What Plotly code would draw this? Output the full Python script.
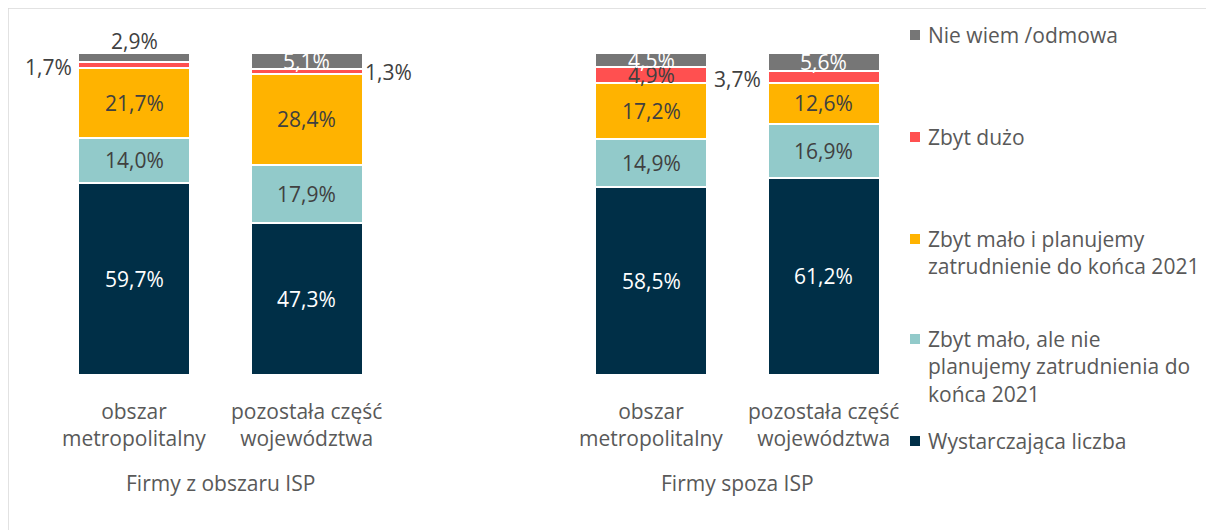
import plotly.graph_objects as go

# ---- data ----
categories = ["obszar<br>metropolitalny", "pozostała część<br>województwa",
              "obszar<br>metropolitalny", "pozostała część<br>województwa"]
groups = ["Firmy z obszaru ISP", "Firmy spoza ISP"]
x_pos = [0, 1, 3, 4]
group_centers = [0.5, 3.5]

series_names = ["Wystarczająca liczba",
                "Zbyt mało, ale nie<br>planujemy zatrudnienia do<br>końca 2021",
                "Zbyt mało i planujemy<br>zatrudnienie do końca 2021",
                "Zbyt dużo",
                "Nie wiem /odmowa"]
wystarczajaca = [59.7, 47.3, 58.5, 61.2]
za_malo_nie_plan = [14.0, 17.9, 14.9, 16.9]
za_malo_plan = [21.7, 28.4, 17.2, 12.6]
zbyt_duzo = [1.7, 1.3, 4.9, 3.7]
nie_wiem = [2.9, 5.1, 4.5, 5.6]
series_values = [wystarczajaca, za_malo_nie_plan, za_malo_plan, zbyt_duzo, nie_wiem]
colors = ["#002F47", "#92CACA", "#FFB300", "#FF5050", "#767676"]
label_colors = ["#FFFFFF", "#404040", "#404040", "#404040", "#FFFFFF"]

FONT = "Open Sans"
FS = 21
Y_MAX = 100

# page body has an 8px margin: work in reference pixels, shift by OFF
OFF = 8
W, H = 1214, 530
L, R, T, B = 48 - OFF, 910 - OFF, 53 - OFF, 375 - OFF


def px2paper_x(px):
    return (px - OFF - L) / (R - L)


def px2paper_y(py):
    return (B - (py - OFF)) / (B - T)


fig = go.Figure()
for name, vals, col in zip(series_names, series_values, colors):
    fig.add_trace(go.Bar(
        x=x_pos, y=vals, name=name, marker=dict(color=col, line=dict(color="white", width=2)),
        width=0.65, showlegend=False, hoverinfo="skip"))


def fmt(v):
    return f"{v:.1f}".replace(".", ",") + "%"


annotations = []
# data labels
for i, xp in enumerate(x_pos):
    base = 0.0
    for s, vals in enumerate(series_values):
        v = vals[i]
        mid = base + v / 2
        top = base + v
        kw = dict(x=xp, y=mid, text=fmt(v), showarrow=False,
                  font=dict(family=FONT, size=FS, color=label_colors[s]))
        if s == 3 and v < 4:  # small red segments: label outside
            if i == 1:
                kw.update(x=xp + 0.33, xanchor="left", font=dict(family=FONT, size=FS, color="#404040"))
            else:
                kw.update(x=xp - 0.35, xanchor="right", yshift=-2,
                          font=dict(family=FONT, size=FS, color="#404040"))
        if s == 4 and v < 4:  # tiny grey segment: label above (paper ref, avoids range clipping)
            kw.update(yref="paper", y=min(top, Y_MAX) / Y_MAX, yanchor="bottom", yshift=-4,
                      font=dict(family=FONT, size=FS, color="#404040"))
        annotations.append(kw)
        base = top

# category labels
for xp, cat in zip(x_pos, categories):
    annotations.append(dict(x=xp, y=px2paper_y(395), yref="paper", yanchor="top", text=cat,
                            showarrow=False, font=dict(family=FONT, size=FS, color="#595959")))
for xc, g in zip(group_centers, groups):
    annotations.append(dict(x=xc, y=px2paper_y(467), yref="paper", yanchor="top", text=g,
                            showarrow=False, font=dict(family=FONT, size=FS, color="#595959")))

# manual legend
legend_rows = [(4, 35), (3, 137), (2, 239), (1, 339), (0, 441)]
shapes = []
for s, cy in legend_rows:
    shapes.append(dict(type="rect", xref="paper", yref="paper",
                       x0=px2paper_x(910), x1=px2paper_x(920),
                       y0=px2paper_y(cy + 5), y1=px2paper_y(cy - 5),
                       fillcolor=colors[s], line=dict(width=0)))
    annotations.append(dict(xref="paper", yref="paper", x=px2paper_x(926), y=px2paper_y(cy - 16),
                            xanchor="left", yanchor="top", align="left", text=series_names[s],
                            showarrow=False, font=dict(family=FONT, size=FS, color="#595959")))

# outer border
shapes.append(dict(type="rect", xref="paper", yref="paper", layer="below",
                   x0=px2paper_x(8), x1=px2paper_x(1230), y0=px2paper_y(560), y1=px2paper_y(8),
                   line=dict(color="#D9D9D9", width=1.5), fillcolor="rgba(0,0,0,0)"))

fig.update_layout(
    barmode="stack", width=W, height=H,
    margin=dict(l=L, r=W - R, t=T, b=H - B),
    paper_bgcolor="white", plot_bgcolor="white",
    xaxis=dict(range=[-0.5, 4.5], visible=False, fixedrange=True),
    yaxis=dict(range=[0, Y_MAX], visible=False, fixedrange=True),
    annotations=annotations, shapes=shapes,
    bargap=0, font=dict(family=FONT),
)

fig.write_html("out.html")
